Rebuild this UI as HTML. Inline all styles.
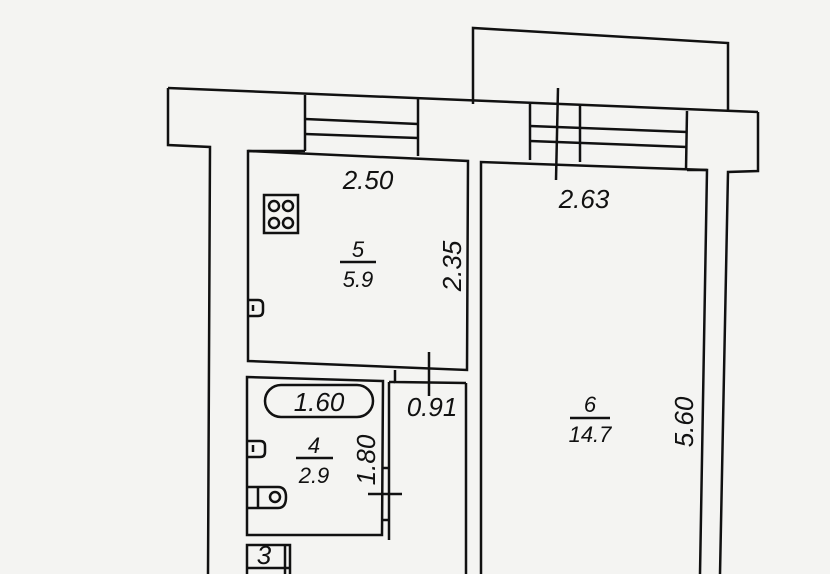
<!DOCTYPE html>
<html><head><meta charset="utf-8"><style>
html,body{margin:0;padding:0;background:#f4f4f2;}
svg{display:block}
text{font-family:"Liberation Sans",sans-serif;fill:#111;}
</style></head><body>
<svg width="830" height="574" viewBox="0 0 830 574" xmlns="http://www.w3.org/2000/svg">
<rect width="830" height="574" fill="#f4f4f2"/>
<g fill="none" stroke="#111" stroke-width="2.5" stroke-linejoin="miter">
<polyline points="473,104 473,28 728,43 728,112"/>
<line x1="168" y1="88" x2="758" y2="112"/>
<polyline points="168,88 168,145 210,147 208,574"/>
<polyline points="758,112 758,171 728,172 720,574"/>
<line x1="687" y1="111" x2="686" y2="170"/>
<line x1="305" y1="95" x2="305" y2="151"/>
<line x1="418" y1="99" x2="418" y2="156"/>
<line x1="305" y1="119" x2="418" y2="124"/>
<line x1="305" y1="134" x2="418" y2="138"/>
<line x1="530" y1="104" x2="530" y2="160"/>
<line x1="580" y1="106" x2="580" y2="162"/>
<line x1="530" y1="126" x2="687" y2="132"/>
<line x1="530" y1="141" x2="687" y2="147"/>
<line x1="558" y1="88" x2="556" y2="180"/>
<polygon points="248,151 468,161 467,370 248,361"/>
<polyline points="481,574 481,162 707,170 700,574"/>
<line x1="305" y1="151" x2="248" y2="151"/>
<line x1="687" y1="170" x2="707" y2="170"/>
<line x1="429" y1="352" x2="429" y2="396"/>
<polyline points="395,370 395,382 466,383"/>
<polygon points="247,377 383,381 382,535 247,535"/>
<line x1="389" y1="382" x2="389" y2="540"/>
<line x1="389" y1="382" x2="395" y2="382"/>
<line x1="466" y1="383" x2="466" y2="574"/>
<line x1="383" y1="468" x2="389" y2="468"/>
<line x1="383" y1="520" x2="389" y2="520"/>
<line x1="368" y1="494" x2="402" y2="494"/>
<polyline points="247,574 247,545 290,545 290,574"/>
<line x1="285" y1="545" x2="285" y2="574"/>
<line x1="247" y1="568" x2="290" y2="568"/>
<rect x="265" y="385" width="108" height="32" rx="16" ry="16"/>
<rect x="264" y="195" width="34" height="38"/>
<circle cx="274" cy="206" r="5"/><circle cx="288" cy="206" r="5"/>
<circle cx="274" cy="223" r="5"/><circle cx="288" cy="223" r="5"/>
<path d="M248,300 H258 Q263,300 263,305 V311 Q263,316 258,316 H248"/>
<line x1="253" y1="305" x2="253" y2="311"/>
<path d="M248,441 H260 Q265,441 265,446 V452 Q265,457 260,457 H248"/>
<line x1="253" y1="445" x2="253" y2="452"/>
<path d="M248,487 H278 Q286,487 286,497 Q286,508 278,508 H248"/>
<line x1="258" y1="487" x2="258" y2="508"/>
<circle cx="275" cy="497" r="5"/>
<line x1="340" y1="262" x2="376" y2="262"/>
<line x1="296" y1="458" x2="333" y2="458"/>
<line x1="570" y1="418" x2="610" y2="418"/>
</g>
<g font-size="26" font-style="italic">
<text x="368" y="189" text-anchor="middle">2.50</text>
<text x="584" y="208" text-anchor="middle">2.63</text>
<text x="358" y="257" text-anchor="middle" font-size="22">5</text>
<text x="358" y="287" text-anchor="middle" font-size="22">5.9</text>
<text transform="translate(461,266) rotate(-90)" text-anchor="middle">2.35</text>
<text x="319" y="411" text-anchor="middle">1.60</text>
<text x="432" y="416" text-anchor="middle">0.91</text>
<text x="314" y="453" text-anchor="middle" font-size="22">4</text>
<text x="314" y="483" text-anchor="middle" font-size="22">2.9</text>
<text transform="translate(375,460) rotate(-90)" text-anchor="middle">1.80</text>
<text x="590" y="412" text-anchor="middle" font-size="22">6</text>
<text x="590" y="442" text-anchor="middle" font-size="22">14.7</text>
<text transform="translate(693,422) rotate(-90)" text-anchor="middle">5.60</text>
<text x="264" y="564" text-anchor="middle">3</text>
</g>
</svg>
</body></html>
